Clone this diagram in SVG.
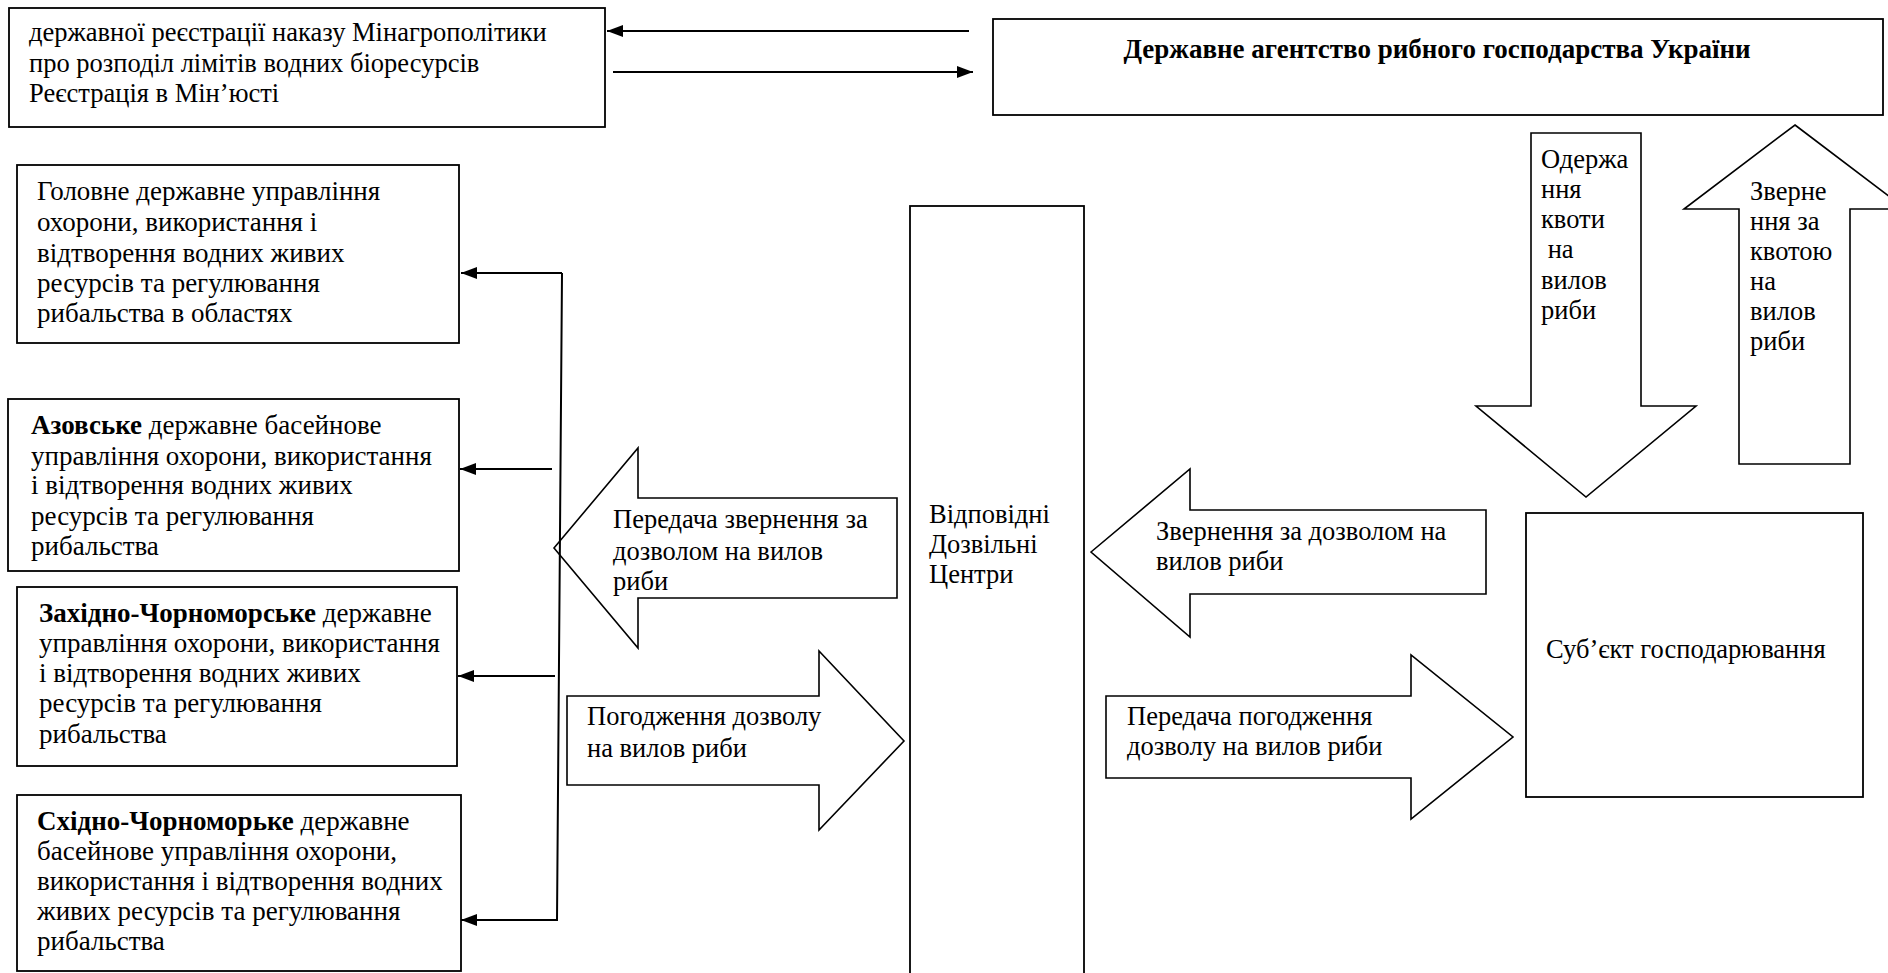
<svg xmlns="http://www.w3.org/2000/svg" width="1888" height="973" viewBox="0 0 1888 973">
<style>
.bg{fill:#ffffff}
.box{fill:#ffffff;stroke:#000;stroke-width:1.8}
.shape{fill:#ffffff;stroke:#000;stroke-width:1.6}
.t{font-family:"Liberation Serif","Times New Roman",serif;font-size:26.5px;fill:#000}
.l{font-size:27px}
.b{font-weight:bold}
.conn{fill:none;stroke:#000;stroke-width:2}
</style>
<defs>
<marker id="ah" viewBox="0 0 16 12" refX="16" refY="6" markerWidth="16" markerHeight="12" markerUnits="userSpaceOnUse" orient="auto">
<path d="M0,0 L16,6 L0,12 z" fill="#000"/>
</marker>
</defs>
<rect class="bg" x="0" y="0" width="1888" height="973"/>

<g id="reg-box">
<rect class="box" x="9" y="8" width="596" height="119"/>
<text class="t" x="29" y="41">державної реєстрації наказу Мінагрополітики</text>
<text class="t" x="29" y="71.5">про розподіл лімітів водних біоресурсів</text>
<text class="t" x="29" y="102">Реєстрація в Мін’юсті</text>
</g>

<g id="agency">
<rect class="box" x="993" y="19" width="890" height="96"/>
<text class="t l b" x="1437" y="58" text-anchor="middle">Державне агентство рибного господарства України</text>
</g>

<g id="main-admin">
<rect class="box" x="17" y="165" width="442" height="178"/>
<text class="t l" x="37" y="200">Головне державне управління</text>
<text class="t l" x="37" y="231">охорони, використання і</text>
<text class="t l" x="37" y="262">відтворення водних живих</text>
<text class="t l" x="37" y="292">ресурсів та регулювання</text>
<text class="t l" x="37" y="322">рибальства в областях</text>
</g>

<g id="azov">
<rect class="box" x="8" y="399" width="451" height="172"/>
<text class="t l" x="31" y="434"><tspan class="b">Азовське</tspan> державне басейнове</text>
<text class="t l" x="31" y="465">управління охорони, використання</text>
<text class="t l" x="31" y="494">і відтворення водних живих</text>
<text class="t l" x="31" y="525">ресурсів та регулювання</text>
<text class="t l" x="31" y="555">рибальства</text>
</g>

<g id="west-black-sea">
<rect class="box" x="17" y="587" width="440" height="179"/>
<text class="t l" x="39" y="622"><tspan class="b">Західно-Чорноморське</tspan> державне</text>
<text class="t l" x="39" y="652">управління охорони, використання</text>
<text class="t l" x="39" y="682">і відтворення водних живих</text>
<text class="t l" x="39" y="712">ресурсів та регулювання</text>
<text class="t l" x="39" y="743">рибальства</text>
</g>

<g id="east-black-sea">
<rect class="box" x="17" y="795" width="444" height="176"/>
<text class="t l" x="37" y="830"><tspan class="b">Східно-Чорноморьке</tspan> державне</text>
<text class="t l" x="37" y="860">басейнове управління охорони,</text>
<text class="t l" x="37" y="890">використання і відтворення водних</text>
<text class="t l" x="37" y="920">живих ресурсів та регулювання</text>
<text class="t l" x="37" y="950">рибальства</text>
</g>

<g id="permit-centers">
<rect class="box" x="910" y="206" width="174" height="800"/>
<text class="t" x="929" y="523">Відповідні</text>
<text class="t" x="929" y="553">Дозвільні</text>
<text class="t" x="929" y="583">Центри</text>
</g>

<g id="business">
<rect class="box" x="1526" y="513" width="337" height="284"/>
<text class="t" x="1546" y="658">Суб’єкт господарювання</text>
</g>

<g id="arrow-forward-request">
<polygon class="shape" points="554,548 638,448 638,498 897,498 897,598 638,598 638,648"/>
<text class="t" x="613" y="528">Передача звернення за</text>
<text class="t" x="613" y="560">дозволом на вилов</text>
<text class="t" x="613" y="590">риби</text>
</g>

<g id="arrow-approval">
<polygon class="shape" points="567,696 819,696 819,651 904,741 819,830 819,785 567,785"/>
<text class="t" x="587" y="725">Погодження дозволу</text>
<text class="t" x="587" y="757">на вилов риби</text>
</g>

<g id="arrow-request">
<polygon class="shape" points="1091,552 1190,469 1190,510 1486,510 1486,594 1190,594 1190,637"/>
<text class="t" x="1156" y="540">Звернення за дозволом на</text>
<text class="t" x="1156" y="570">вилов риби</text>
</g>

<g id="arrow-pass-approval">
<polygon class="shape" points="1106,696 1411,696 1411,655 1513,737 1411,819 1411,778 1106,778"/>
<text class="t" x="1127" y="725">Передача погодження</text>
<text class="t" x="1127" y="755">дозволу на вилов риби</text>
</g>

<g id="arrow-quota-receive">
<polygon class="shape" points="1531,133 1641,133 1641,406 1696,406 1586,497 1476,406 1531,406"/>
<text class="t" x="1541" y="168">Одержа</text>
<text class="t" x="1541" y="198">ння</text>
<text class="t" x="1541" y="228">квоти</text>
<text class="t" x="1541" y="258" xml:space="preserve"> на</text>
<text class="t" x="1541" y="289">вилов</text>
<text class="t" x="1541" y="319">риби</text>
</g>

<g id="arrow-quota-request">
<polygon class="shape" points="1795,125 1906,209 1850,209 1850,464 1739,464 1739,209 1684,209"/>
<text class="t" x="1750" y="200">Зверне</text>
<text class="t" x="1750" y="230">ння за</text>
<text class="t" x="1750" y="260">квотою</text>
<text class="t" x="1750" y="290">на</text>
<text class="t" x="1750" y="320">вилов</text>
<text class="t" x="1750" y="350">риби</text>
</g>

<g id="connectors">
<path class="conn" d="M969,31 L607,31" marker-end="url(#ah)"/>
<path class="conn" d="M613,72 L973,72" marker-end="url(#ah)"/>
<path class="conn" d="M562,273 L461,273" marker-end="url(#ah)"/>
<path class="conn" d="M562,273 L557,920 L461,920" marker-end="url(#ah)"/>
<path class="conn" d="M552,469 L460,469" marker-end="url(#ah)"/>
<path class="conn" d="M555,676 L458,676" marker-end="url(#ah)"/>
</g>
</svg>
